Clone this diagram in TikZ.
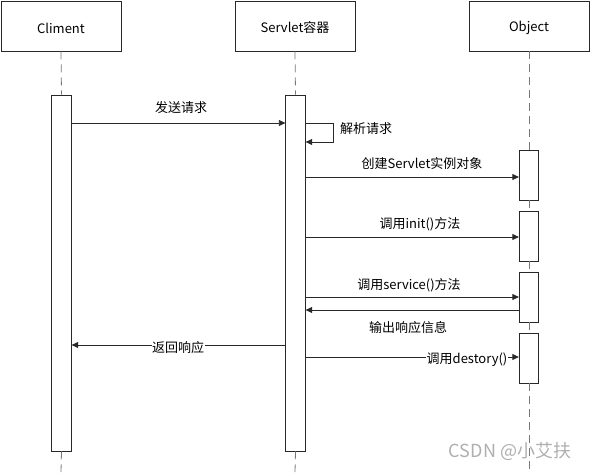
\documentclass[tikz,border=0pt]{standalone}
\usepackage{fontspec}
\setmainfont{Noto Sans CJK SC}
\usetikzlibrary{arrows.meta}
\definecolor{ln}{RGB}{40,40,40}
\definecolor{life}{RGB}{120,120,120}
\definecolor{wm}{RGB}{175,175,175}
\tikzset{
  head/.style={draw=ln, line width=0.8pt, minimum width=120pt, minimum height=50pt, inner sep=0pt},
  act/.style={draw=ln, line width=0.8pt, fill=white, minimum width=19.5pt, inner sep=0pt},
  lifeline/.style={draw=life, line width=0.8pt, dash pattern=on 8pt off 5pt},
  msg/.style={draw=ln, line width=0.8pt, -{Triangle[length=6.5pt,width=6pt]}},
  lbl/.style={font=\fontsize{13}{15}\selectfont, inner sep=1pt, yshift=-2pt},
}
\begin{document}
\begin{tikzpicture}[x=1pt,y=-1pt]
\useasboundingbox (0,0) rectangle (591,472);
% headers
\node[head] (hc) at (61,26) {};
\node[head] (hs) at (295,26) {};
\node[head] (ho) at (529,26) {};
\node[lbl] (hct) at (hc.center) {Climent};
\node[lbl] (hst) at (hs.center) {Servlet容器};
\node[lbl] (hot) at (ho.center) {Object};
% activations
\node[act, minimum height=356pt] (ac) at (61.5,273) {};
\node[act, minimum height=356pt] (as) at (295.5,273) {};
\node[act, minimum height=50pt] (o1) at (529,175) {};
\node[act, minimum height=50pt] (o2) at (529,236) {};
\node[act, minimum height=50pt] (o3) at (529,297) {};
\node[act, minimum height=50pt] (o4) at (529,358) {};
% lifeline end points
\coordinate (ec) at (61,472);
\coordinate (es) at (295,472);
\coordinate (eo) at (529,472);
% lifelines
\draw[lifeline] (hc.south) -- (ac.north);
\draw[lifeline] (ac.south) -- (ec);
\draw[lifeline] (hs.south) -- (as.north);
\draw[lifeline] (as.south) -- (es);
\draw[lifeline] (ho.south) -- (o1.north);
\draw[lifeline] (o1.south) -- (o2.north);
\draw[lifeline] (o2.south) -- (o3.north);
\draw[lifeline] (o3.south) -- (o4.north);
\draw[lifeline] (o4.south) -- (eo);
% row coordinates
\coordinate (y1) at (0,123);
\coordinate (y1b) at (0,142);
\coordinate (y2) at (0,177);
\coordinate (y3) at (0,237);
\coordinate (y4) at (0,297);
\coordinate (y5) at (0,310);
\coordinate (y6) at (0,345);
\coordinate (y7) at (0,357);
\coordinate (lx) at (333,0);
% messages
\draw[msg] (ac.east |- y1) -- (as.west |- y1);
\node[lbl] (t1) at (181,106) {发送请求};
\draw[msg] (as.east |- y1) -- (lx |- y1) -- (lx |- y1b) -- (as.east |- y1b);
\node[lbl, anchor=west] (t1b) at (339,127) {解析请求};
\draw[msg] (as.east |- y2) -- (o1.west |- y2);
\node[lbl] (t2) at (422,162) {创建Servlet实例对象};
\draw[msg] (as.east |- y3) -- (o2.west |- y3);
\node[lbl] (t3) at (420,222) {调用init()方法};
\draw[msg] (as.east |- y4) -- (o3.west |- y4);
\node[lbl] (t4) at (409,283) {调用service()方法};
\draw[msg] (o3.west |- y5) -- (as.east |- y5);
\node[lbl] (t5) at (408,326) {输出响应信息};
\draw[msg] (as.west |- y6) -- (ac.east |- y6);
\node[lbl, fill=white, inner sep=0.5pt, yshift=-1pt] (t6) at (178,345) {返回响应};
\draw[msg] (as.east |- y7) -- (o4.west |- y7);
\node[lbl, fill=white, inner sep=0.5pt, yshift=-1pt] (t7) at (467,357) {调用destory()};
% watermark
\node[font=\fontsize{18}{20}\selectfont, text=wm, inner sep=0pt] (wmk) at (510,451) {CSDN @小艾扶};
\end{tikzpicture}
\end{document}
